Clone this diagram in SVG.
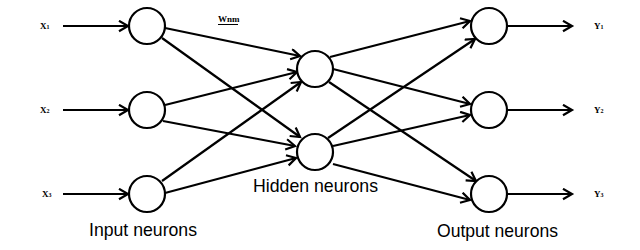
<svg xmlns="http://www.w3.org/2000/svg" width="640" height="250" viewBox="0 0 640 250">
<defs>
<style>
.n{fill:#fff;stroke:#000;stroke-width:2.2}
.c line{stroke:#000;stroke-width:2.2;marker-end:url(#ah)}
.lab{font-family:"Liberation Sans",Arial,sans-serif;font-size:18.5px;fill:#000}
.v{font-family:"Liberation Serif","Times New Roman",serif;font-size:9px;font-weight:bold;fill:#000}
.s{font-size:6px}
</style>
<marker id="ah" markerUnits="userSpaceOnUse" markerWidth="14" markerHeight="14" refX="10" refY="6" orient="auto">
<path d="M1,0.8 L10,6 L1,11.2" fill="none" stroke="#000" stroke-width="2.2"/>
</marker>
</defs>
<rect width="640" height="250" fill="#fff"/>
<g class="c" id="connectors">
<line x1="63" y1="26" x2="128" y2="26"/>
<line x1="63" y1="110" x2="128" y2="110"/>
<line x1="63" y1="194" x2="128" y2="194"/>
<line x1="165" y1="28" x2="300" y2="56"/>
<line x1="162" y1="38" x2="300" y2="137"/>
<line x1="165" y1="105" x2="297" y2="72"/>
<line x1="163" y1="121" x2="295" y2="146"/>
<line x1="162" y1="181" x2="301" y2="82"/>
<line x1="165" y1="193" x2="296" y2="158"/>
<line x1="330" y1="57" x2="470" y2="21"/>
<line x1="333" y1="69" x2="470" y2="104"/>
<line x1="329" y1="82" x2="476" y2="181"/>
<line x1="328" y1="138" x2="475" y2="39"/>
<line x1="333" y1="146" x2="470" y2="115"/>
<line x1="333" y1="164" x2="470" y2="200"/>
<line x1="507" y1="26" x2="572" y2="26"/>
<line x1="507" y1="110" x2="572" y2="110"/>
<line x1="507" y1="194" x2="572" y2="194"/>
</g>
<g id="in1"><circle class="n" cx="147" cy="26" r="18"/></g>
<g id="in2"><circle class="n" cx="147" cy="110" r="18"/></g>
<g id="in3"><circle class="n" cx="147" cy="194" r="18"/></g>
<g id="h1"><circle class="n" cx="315" cy="69" r="18"/></g>
<g id="h2"><circle class="n" cx="315" cy="152" r="18"/></g>
<g id="o1"><circle class="n" cx="489" cy="26" r="18"/></g>
<g id="o2"><circle class="n" cx="489" cy="110" r="18"/></g>
<g id="o3"><circle class="n" cx="489" cy="194" r="18"/></g>
<g id="labels">
<text class="v" x="40" y="29">X<tspan class="s">1</tspan></text>
<text class="v" x="40" y="113">X<tspan class="s">2</tspan></text>
<text class="v" x="42" y="197">X<tspan class="s">3</tspan></text>
<text class="v" x="594" y="29">Y<tspan class="s">1</tspan></text>
<text class="v" x="594" y="113">Y<tspan class="s">2</tspan></text>
<text class="v" x="594" y="197">Y<tspan class="s">3</tspan></text>
<text class="v" x="218" y="22">Wnm</text>
<line x1="218" y1="24.5" x2="238" y2="24.5" stroke="#000" stroke-width="1"/>
<text class="lab" x="89" y="236" textLength="108" lengthAdjust="spacingAndGlyphs">Input neurons</text>
<text class="lab" x="253" y="192" textLength="125" lengthAdjust="spacingAndGlyphs">Hidden neurons</text>
<text class="lab" x="437" y="237" textLength="121" lengthAdjust="spacingAndGlyphs">Output neurons</text>
</g>
</svg>
